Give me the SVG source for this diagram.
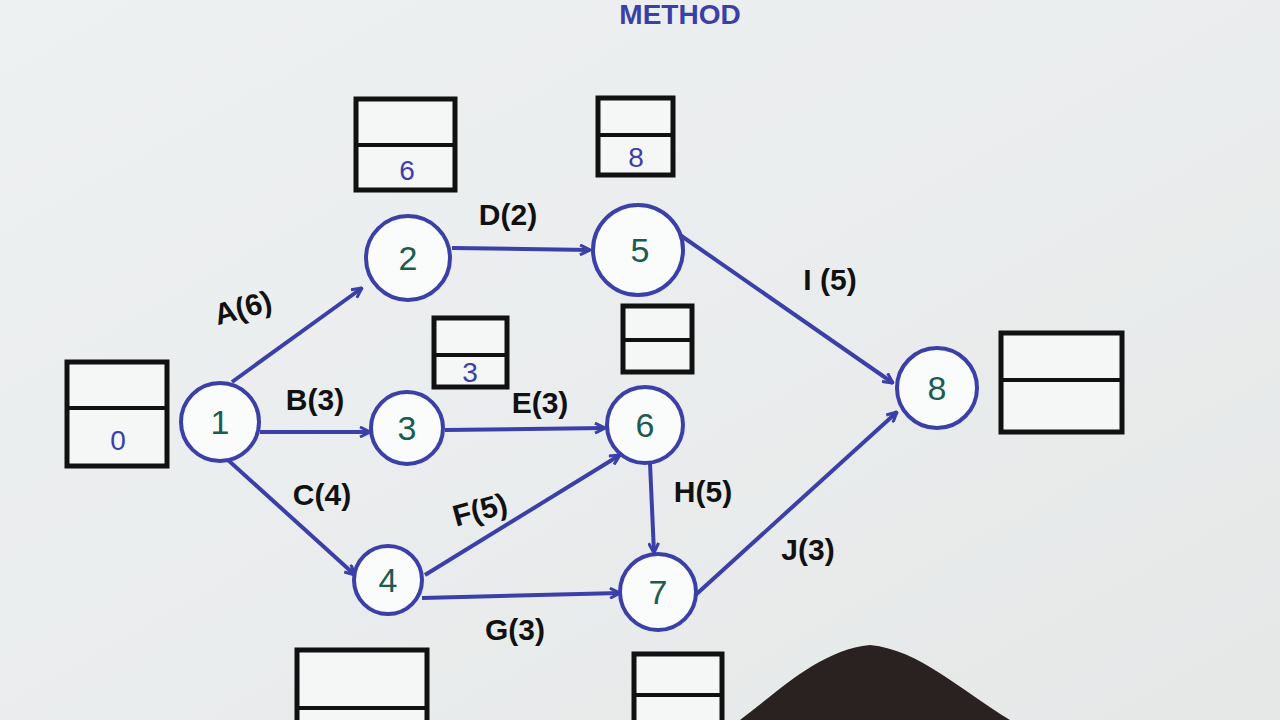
<svg xmlns="http://www.w3.org/2000/svg" width="1280" height="720" viewBox="0 0 1280 720">
<defs>
<marker id="ah" viewBox="0 0 12 12" refX="11" refY="6" markerWidth="12" markerHeight="12" markerUnits="userSpaceOnUse" orient="auto">
<path d="M1,1 L11,6 L1,11" fill="none" stroke="#3b3fa8" stroke-width="3"/>
</marker>
<linearGradient id="bg" x1="0" y1="0" x2="1" y2="1">
<stop offset="0" stop-color="#eef1f2"/><stop offset="1" stop-color="#e6e8e8"/>
</linearGradient>
</defs>
<style>
.n circle{fill:#fafbfb;stroke:#3b3fa8;stroke-width:4}
.n text{font-family:"Liberation Sans",sans-serif;font-size:34px;fill:#1d5a50;text-anchor:middle}
.b rect{fill:#f5f6f6;stroke:#111;stroke-width:5}
.b line{stroke:#111;stroke-width:4}
.b text{font-family:"Liberation Sans",sans-serif;font-size:28px;fill:#3b3fa8;text-anchor:middle}
.e line{stroke:#3b3fa8;stroke-width:4;marker-end:url(#ah)}
.l{font-family:"Liberation Sans",sans-serif;font-size:30px;fill:#111;text-anchor:middle;font-weight:bold}
</style>
<rect width="1280" height="720" fill="url(#bg)"/>
<text x="680" y="24" class="l" style="font-size:28px;fill:#3b3fa8">METHOD</text>
<g id="connectors" class="e">
<line x1="232" y1="382" x2="362" y2="288"/>
<line x1="260" y1="432" x2="370" y2="432"/>
<line x1="228" y1="460" x2="355" y2="575"/>
<line x1="452" y1="248" x2="590" y2="250"/>
<line x1="445" y1="430" x2="605" y2="428"/>
<line x1="425" y1="575" x2="620" y2="455"/>
<line x1="422" y1="598" x2="620" y2="593"/>
<line x1="650" y1="463" x2="654" y2="553"/>
<line x1="680" y1="235" x2="893" y2="383"/>
<line x1="690" y1="600" x2="897" y2="412"/>
</g>
<g id="labels">
<text class="l" x="243" y="318" transform="rotate(-15 243 308)">A(6)</text>
<text class="l" x="315" y="410">B(3)</text>
<text class="l" x="322" y="505">C(4)</text>
<text class="l" x="508" y="225">D(2)</text>
<text class="l" x="540" y="413">E(3)</text>
<text class="l" x="480" y="520" transform="rotate(-15 480 510)">F(5)</text>
<text class="l" x="515" y="640">G(3)</text>
<text class="l" x="703" y="502">H(5)</text>
<text class="l" x="830" y="290">I (5)</text>
<text class="l" x="808" y="560">J(3)</text>
</g>
<g id="node1" class="n"><circle cx="220" cy="422" r="39"/><text x="220" y="434">1</text></g>
<g id="node2" class="n"><circle cx="408" cy="258" r="42"/><text x="408" y="270">2</text></g>
<g id="node3" class="n"><circle cx="407" cy="428" r="36"/><text x="407" y="440">3</text></g>
<g id="node4" class="n"><circle cx="388" cy="580" r="34"/><text x="388" y="592">4</text></g>
<g id="node5" class="n"><circle cx="638" cy="250" r="45"/><text x="640" y="262">5</text></g>
<g id="node6" class="n"><circle cx="645" cy="425" r="38"/><text x="645" y="437">6</text></g>
<g id="node7" class="n"><circle cx="658" cy="592" r="38"/><text x="658" y="604">7</text></g>
<g id="node8" class="n"><circle cx="937" cy="388" r="40"/><text x="937" y="400">8</text></g>
<g id="box0" class="b"><rect x="67" y="362" width="100" height="104"/><line x1="67" y1="408" x2="167" y2="408"/><text x="118" y="450">0</text></g>
<g id="box2" class="b"><rect x="356" y="99" width="99" height="91"/><line x1="356" y1="145" x2="455" y2="145"/><text x="407" y="180">6</text></g>
<g id="box5" class="b"><rect x="598" y="98" width="75" height="77"/><line x1="598" y1="135" x2="673" y2="135"/><text x="636" y="167">8</text></g>
<g id="box3" class="b"><rect x="434" y="318" width="73" height="69"/><line x1="434" y1="355" x2="507" y2="355"/><text x="470" y="382">3</text></g>
<g id="box6" class="b"><rect x="623" y="306" width="69" height="66"/><line x1="623" y1="340" x2="692" y2="340"/></g>
<g id="box8" class="b"><rect x="1001" y="333" width="121" height="99"/><line x1="1001" y1="380" x2="1122" y2="380"/></g>
<g id="box4" class="b"><rect x="297" y="650" width="130" height="80"/><line x1="297" y1="708" x2="427" y2="708"/></g>
<g id="box7" class="b"><rect x="634" y="654" width="88" height="76"/><line x1="634" y1="695" x2="722" y2="695"/></g>
<path d="M740,720 C780,690 820,650 870,645 C920,650 960,690 1010,720 Z" fill="#2a2220"/>
</svg>
